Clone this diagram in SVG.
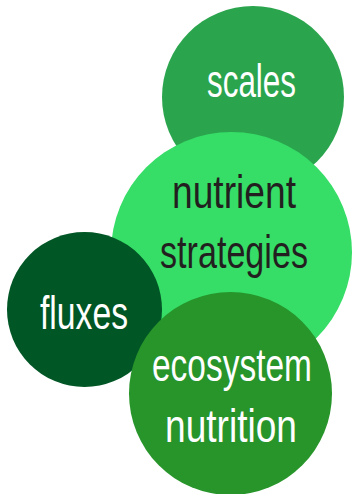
<svg xmlns="http://www.w3.org/2000/svg" width="353" height="494" viewBox="0 0 353 494">
<style>
.t{font-family:"Liberation Sans",Arial,sans-serif;font-size:47px;text-anchor:middle}
.w{fill:#ffffff}
.d{fill:#231f20}
</style>
<rect width="353" height="494" fill="#ffffff"/>
<g id="connectors"></g>
<g id="scales">
<circle cx="253" cy="97" r="91" fill="#2aa54d"/>
<text class="t w" x="251.5" y="97" textLength="89" lengthAdjust="spacingAndGlyphs">scales</text>
</g>
<g id="nutrient-strategies">
<circle cx="231.5" cy="252.5" r="120.5" fill="#36de67"/>
<text class="t d" x="234" y="208" textLength="124" lengthAdjust="spacingAndGlyphs">nutrient</text>
<text class="t d" x="234" y="268" textLength="148" lengthAdjust="spacingAndGlyphs">strategies</text>
</g>
<g id="fluxes">
<circle cx="84.5" cy="309.5" r="77.5" fill="#005625"/>
<text class="t w" x="84" y="329" textLength="88" lengthAdjust="spacingAndGlyphs">fluxes</text>
</g>
<g id="ecosystem-nutrition">
<circle cx="230.5" cy="393.5" r="101.5" fill="#27952a"/>
<text class="t w" x="232" y="381" textLength="160" lengthAdjust="spacingAndGlyphs">ecosystem</text>
<text class="t w" x="231" y="442" textLength="132" lengthAdjust="spacingAndGlyphs">nutrition</text>
</g>
</svg>
